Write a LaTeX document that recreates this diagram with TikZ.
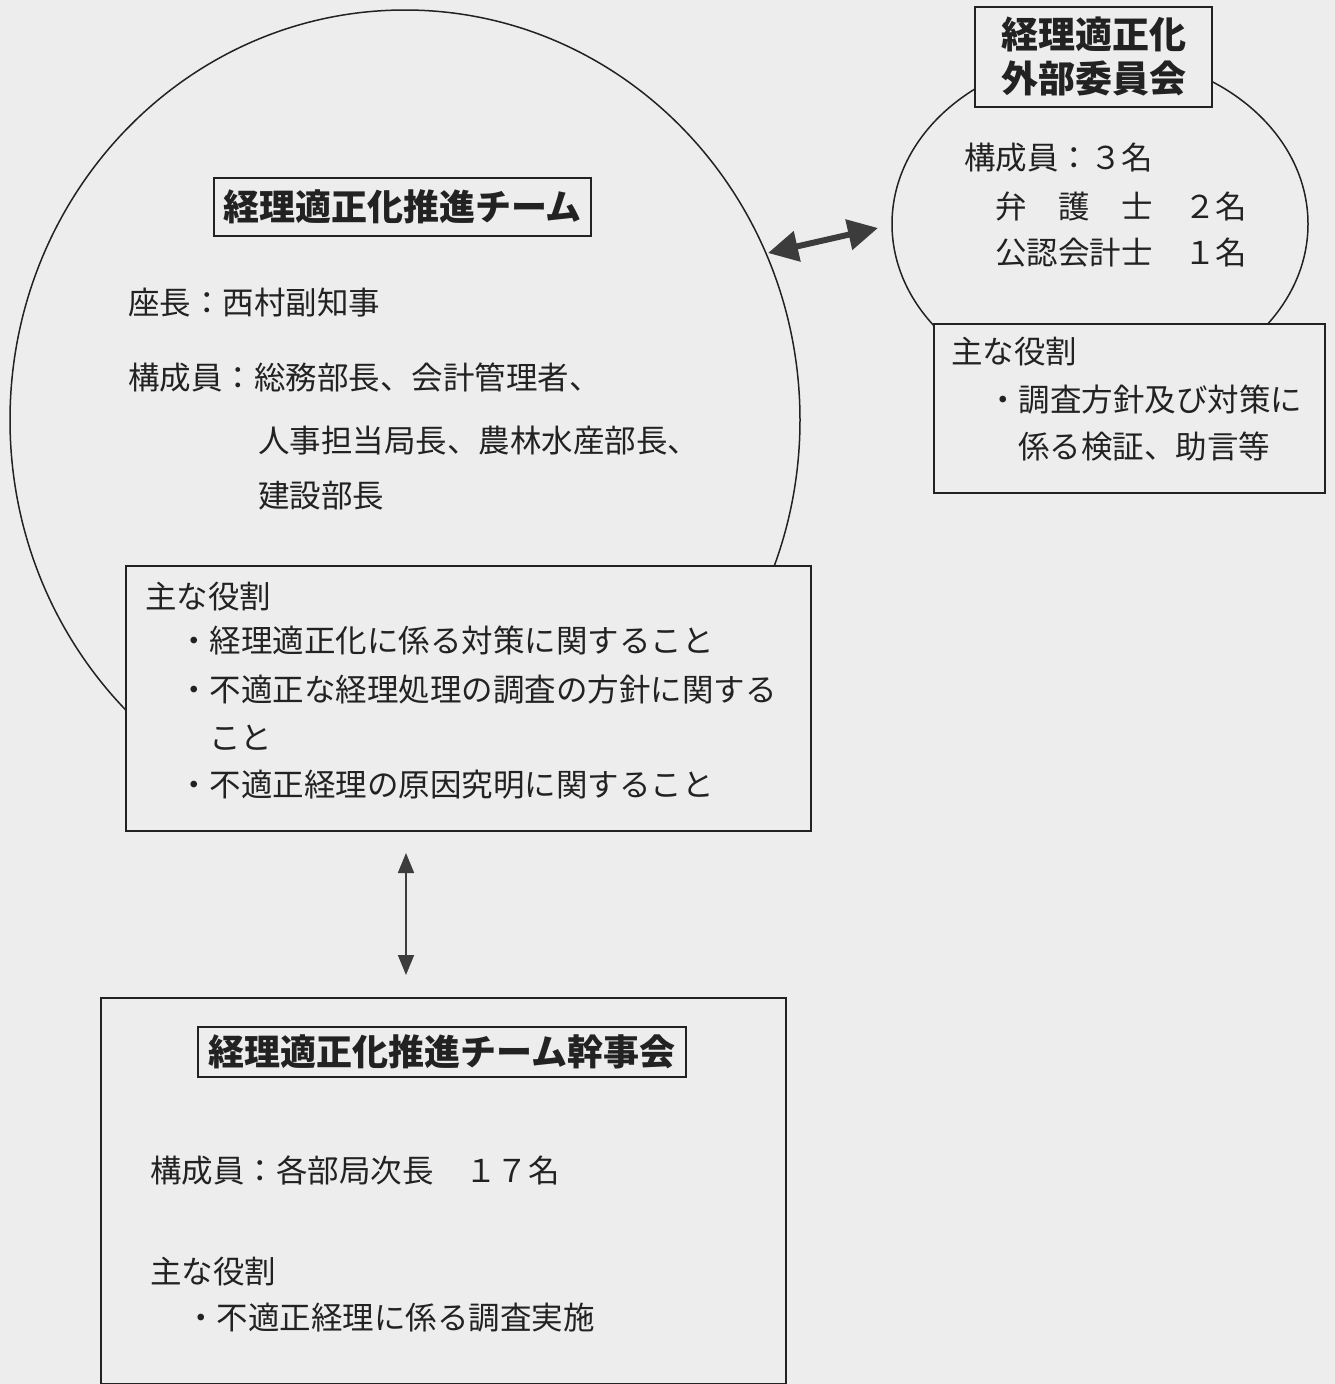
\documentclass[tikz,border=0pt]{standalone}
\usepackage{fontspec}
\setmainfont{Noto Sans CJK JP}
\usetikzlibrary{arrows.meta,shapes.geometric}
\definecolor{paper}{HTML}{EDEDED}
\definecolor{ink}{HTML}{222222}
\definecolor{arrowgrey}{HTML}{3C3C3C}
\tikzset{
  body/.style={font=\fontsize{31.5pt}{36pt}\selectfont, text=ink, anchor=west, inner sep=0pt},
  titletext/.style={font=\fontsize{36pt}{44pt}\selectfont\bfseries, text=ink, align=center, inner sep=0pt},
  titlebox/.style={draw=ink, line width=1.2pt, fill=paper, inner sep=0pt},
  panel/.style={draw=ink, line width=1.8pt, fill=paper, anchor=north west, inner sep=0pt},
  oval/.style={draw=ink, line width=1.5pt, ellipse, inner sep=0pt},
  bigarrow/.style={draw=arrowgrey, line width=6pt, {Triangle[length=30pt,width=30pt]}-{Triangle[length=30pt,width=30pt]}},
  thinarrow/.style={draw=arrowgrey, line width=1.8pt, {Triangle[length=20pt,width=16pt]}-{Triangle[length=20pt,width=16pt]}}
}
\begin{document}
\begin{tikzpicture}[x=1pt,y=-1pt]
\fill[paper] (0,0) rectangle (1335,1384);
\useasboundingbox (0,0) rectangle (1335,1384);

% big circle (team)
\node[oval, minimum width=790pt, minimum height=820pt] (team) at (405,420) {};
\node[titlebox, minimum width=377pt, minimum height=58pt] (teamtitlebox) at (402.5,207) {};
\node[titletext] (teamtitle) at (402.5,207) {経理適正化推進チーム};
\node[body] (chair) at (128,303) {座長：西村副知事};
\node[body] (mem1) at (128,378) {構成員：総務部長、会計管理者、};
\node[body] (mem2) at (258,441) {人事担当局長、農林水産部長、};
\node[body] (mem3) at (258,496) {建設部長};

\node[panel, minimum width=685pt, minimum height=265pt] (teamroles) at (125,565) {};
\node[body] (tr0) at (145,597) {主な役割};
\node[body] (tr1) at (178,640) {・経理適正化に係る対策に関すること};
\node[body] (tr2) at (178,690) {・不適正な経理処理の調査の方針に関する};
\node[body] (tr3) at (209,738) {こと};
\node[body] (tr4) at (178,785) {・不適正経理の原因究明に関すること};

% right oval (external committee)
\node[oval, minimum width=416pt, minimum height=338pt] (ext) at (1100,224) {};
\node[titlebox, line width=1.8pt, minimum width=237pt, minimum height=100pt] (exttitlebox) at (1093.5,57) {};
\node[titletext, font=\fontsize{37pt}{44pt}\selectfont\bfseries] (exttitle) at (1093.5,56) {経理適正化\\外部委員会};
\node[body] (em0) at (964,158) {構成員：３名};
\node[body] (em1) at (995,206) {弁　護　士　２名};
\node[body] (em2) at (995,253) {公認会計士　１名};

\node[panel, minimum width=391pt, minimum height=169pt] (extroles) at (933,323) {};
\node[body] (er0) at (951,352) {主な役割};
\node[body] (er1) at (987,400) {・調査方針及び対策に};
\node[body] (er2) at (1018,447) {係る検証、助言等};

% bottom panel (secretariat)
\node[panel, minimum width=685pt, minimum height=386pt] (sec) at (100,997) {};
\node[titlebox, minimum width=488pt, minimum height=50pt] (sectitlebox) at (442,1052) {};
\node[titletext] (sectitle) at (442,1052) {経理適正化推進チーム幹事会};
\node[body] (sm0) at (150,1170) {構成員：各部局次長　１７名};
\node[body] (sr0) at (150,1272) {主な役割};
\node[body] (sr1) at (185,1318) {・不適正経理に係る調査実施};

% connectors
\coordinate (teamright) at (768,253);
\coordinate (extleft) at (878,228);
\draw[bigarrow] (teamright) -- (extleft);
\coordinate (teamlow) at (406,853);
\coordinate (sectop) at (406,975);
\draw[thinarrow] (teamlow) -- (sectop);
\end{tikzpicture}
\end{document}
